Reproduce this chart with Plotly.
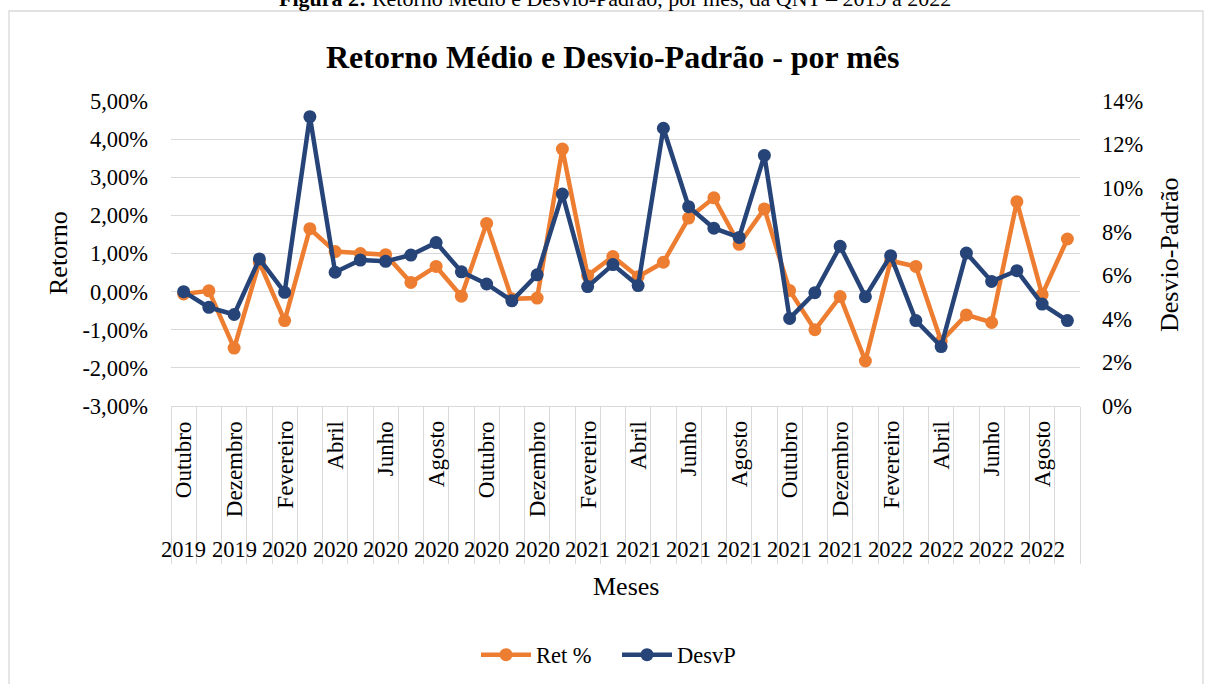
import plotly.graph_objects as go

meses_nomes = ["Outubro", "Novembro", "Dezembro", "Janeiro", "Fevereiro", "Março",
               "Abril", "Maio", "Junho", "Julho", "Agosto", "Setembro"]
anos = [2019, 2019, 2019] + [2020] * 12 + [2021] * 12 + [2022] * 9
meses = [meses_nomes[i % 12] for i in range(36)]
categorias = [f"{m} {a}" for m, a in zip(meses, anos)]

ret = [-0.0006, 0.0002, -0.0148, 0.0077, -0.0076, 0.0165, 0.0105, 0.0100, 0.0097, 0.0024,
       0.0066, -0.0012, 0.0179, -0.0019, -0.0017, 0.0374, 0.0042, 0.0092, 0.0039, 0.0077,
       0.0193, 0.0246, 0.0124, 0.0217, 0.0003, -0.0100, -0.0013, -0.0182, 0.0081, 0.0066,
       -0.0130, -0.0061, -0.0081, 0.0236, -0.0008, 0.0138]
desvp = [0.0525, 0.0453, 0.0420, 0.0675, 0.0522, 0.1328, 0.0614, 0.0670, 0.0664, 0.0693,
         0.0750, 0.0616, 0.0560, 0.0483, 0.0602, 0.0973, 0.0548, 0.0649, 0.0553, 0.1275,
         0.0915, 0.0816, 0.0774, 0.1150, 0.0402, 0.0520, 0.0733, 0.0502, 0.0690, 0.0392,
         0.0273, 0.0702, 0.0572, 0.0621, 0.0468, 0.0392]

ticks_ret = [-0.03, -0.02, -0.01, 0.0, 0.01, 0.02, 0.03, 0.04, 0.05]
ticks_ret_txt = ["-3,00%", "-2,00%", "-1,00%", "0,00%", "1,00%", "2,00%", "3,00%", "4,00%", "5,00%"]
ticks_dp = [0.0, 0.02, 0.04, 0.06, 0.08, 0.10, 0.12, 0.14]
ticks_dp_txt = ["0%", "2%", "4%", "6%", "8%", "10%", "12%", "14%"]

ORANGE = "#ED7D31"
BLUE = "#264478"
GRID = "#d9d9d9"
FONT = "Liberation Serif"

W, H = 1205, 684
L, R, T, B = 171, 125, 101, 278
PW, PH = W - L - R, H - T - B


def px(xpix):
    return (xpix - L) / PW


def py(ypix):
    return (H - B - ypix) / PH


fig = go.Figure()
fig.add_trace(go.Scatter(x=categorias, y=ret, name="Ret %", mode="lines+markers",
                         line=dict(color=ORANGE, width=4.5),
                         marker=dict(color=ORANGE, size=13), yaxis="y"))
fig.add_trace(go.Scatter(x=categorias, y=desvp, name="DesvP", mode="lines+markers",
                         line=dict(color=BLUE, width=4.5),
                         marker=dict(color=BLUE, size=13), yaxis="y2"))

annotations = []
for i, (m, a) in enumerate(zip(meses, anos)):
    if i % 2 == 0:
        annotations.append(dict(x=categorias[i], xref="x", y=py(419), yref="paper",
                                text=m, textangle=-90, showarrow=False, yanchor="top",
                                xanchor="center", font=dict(family=FONT, size=23, color="black")))
        annotations.append(dict(x=categorias[i], xref="x", y=py(549), yref="paper",
                                text=str(a), showarrow=False, yanchor="middle",
                                xanchor="center", font=dict(family=FONT, size=22.5, color="black")))

annotations += [
    dict(x=px(613), y=py(57), xref="paper", yref="paper", showarrow=False,
         text="<b>Retorno Médio e Desvio-Padrão - por mês</b>",
         font=dict(family=FONT, size=32, color="black"), xanchor="center", yanchor="middle"),
    dict(x=px(615), y=py(13), xref="paper", yref="paper", showarrow=False,
         text="<b>Figura 2:</b> Retorno Médio e Desvio-Padrão, por mês, da QNT – 2019 a 2022",
         font=dict(family=FONT, size=22, color="black"), xanchor="center", yanchor="bottom"),
    dict(x=px(58), y=py(253), xref="paper", yref="paper", showarrow=False,
         text="Retorno", textangle=-90,
         font=dict(family=FONT, size=26, color="black"), xanchor="center", yanchor="middle"),
    dict(x=px(1170), y=py(255), xref="paper", yref="paper", showarrow=False,
         text="Desvio-Padrão", textangle=-90,
         font=dict(family=FONT, size=26, color="black"), xanchor="center", yanchor="middle"),
    dict(x=px(626), y=py(586), xref="paper", yref="paper", showarrow=False,
         text="Meses",
         font=dict(family=FONT, size=26, color="black"), xanchor="center", yanchor="middle"),
]

fig.update_layout(
    width=W, height=H,
    margin=dict(l=L, r=R, t=T, b=B, autoexpand=False),
    paper_bgcolor="white", plot_bgcolor="white",
    font=dict(family=FONT, size=22.5, color="black"),
    showlegend=True,
    legend=dict(orientation="h", x=px(617), y=py(655), xanchor="center", yanchor="middle",
                font=dict(family=FONT, size=22.5, color="black"), itemwidth=50,
                entrywidth=76, bgcolor="rgba(0,0,0,0)"),
    xaxis=dict(type="category", categoryorder="array", categoryarray=categorias,
               showticklabels=False, showgrid=False, zeroline=False,
               showline=True, linecolor=GRID, linewidth=1.3,
               ticks="outside", tickson="boundaries", ticklen=157,
               tickcolor=GRID, tickwidth=1.3, range=[-0.5, 35.5]),
    yaxis=dict(range=[-0.03, 0.05], tickmode="array", tickvals=ticks_ret, ticktext=ticks_ret_txt,
               showgrid=True, gridcolor=GRID, gridwidth=1.3, zeroline=False,
               showline=False, ticks="", ticklabelstandoff=22,
               tickfont=dict(family=FONT, size=22.5, color="black")),
    yaxis2=dict(range=[0, 0.14], tickmode="array", tickvals=ticks_dp, ticktext=ticks_dp_txt,
                overlaying="y", side="right", showgrid=False, zeroline=False,
                showline=False, ticks="", ticklabelstandoff=21,
                tickfont=dict(family=FONT, size=22.5, color="black")),
    annotations=annotations,
    shapes=[dict(type="rect", xref="paper", yref="paper",
                 x0=px(9), x1=px(1203), y0=py(700), y1=py(11),
                 line=dict(color=GRID, width=1.3), fillcolor="rgba(0,0,0,0)", layer="below")],
)

fig.write_html("out.html", config={"displayModeBar": False},
               post_script="document.body.style.margin='0';document.body.style.overflow='hidden';")
